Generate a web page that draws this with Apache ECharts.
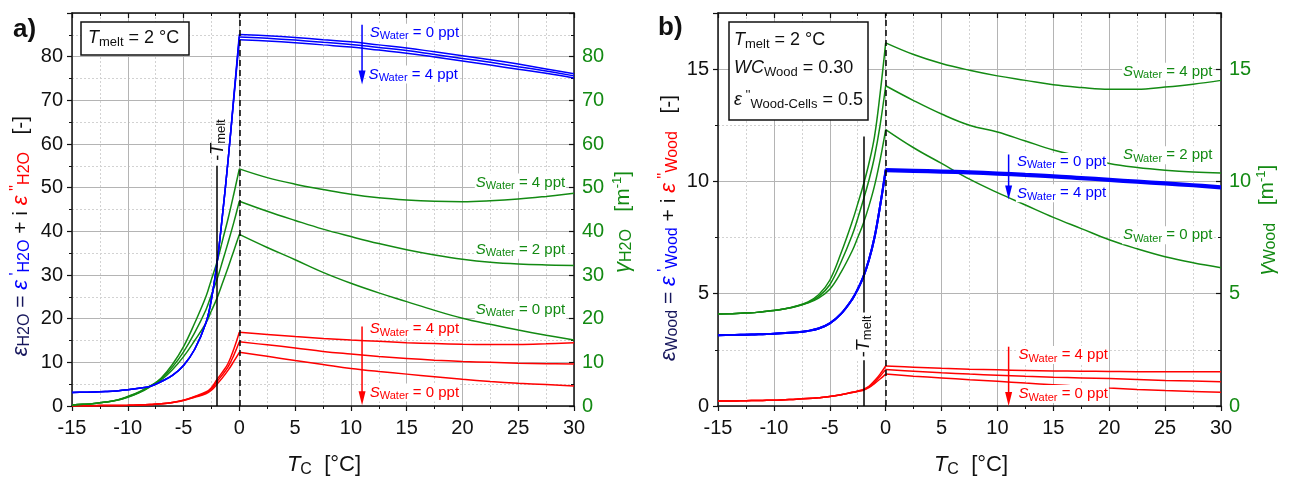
<!DOCTYPE html>
<html><head><meta charset="utf-8">
<script src="https://cdn.jsdelivr.net/npm/echarts@6/dist/echarts.min.js"></script>
<style>html,body{margin:0;padding:0;background:#fff}#c{width:1294px;height:478px}</style>
</head><body><div id="c"></div>
<script>
// ---------- temperatures ----------
const T_FROZEN = [-15,-14,-13,-12,-11,-10,-9,-8,-7,-6,-5,-4,-3,-2.5,-2,-1.5,-1,-0.5,0];
const T_MELTED = [0,2.5,5,7.5,10,12.5,15,17.5,20,22.5,25,27.5,30];
const X_TICKS = [-15,-10,-5,0,5,10,15,20,25,30];

// ---------- panel a: water ----------
const A_EPS1_FROZEN_S0 = [3.1,3.15,3.2,3.3,3.45,3.7,4.05,4.5,5.6,7.0,9.3,13.0,19.0,24.5,32.7,44.0,56.5,70.8,85.1];
const A_EPS1_FROZEN_S2 = [3.1,3.15,3.2,3.3,3.45,3.7,4.05,4.5,5.6,7.0,9.3,13.0,19.0,24.5,32.7,44.0,56.5,70.5,84.5];
const A_EPS1_FROZEN_S4 = [3.1,3.15,3.2,3.3,3.45,3.7,4.05,4.5,5.6,7.0,9.3,13.0,19.0,24.5,32.7,44.0,56.5,70.2,83.9];
const A_EPS1_MELTED_S0 = [85.1,84.8,84.4,83.9,83.4,82.7,82.0,81.1,80.2,79.3,78.3,77.2,76.1];
const A_EPS1_MELTED_S2 = [84.5,84.2,83.8,83.3,82.8,82.1,81.4,80.5,79.6,78.7,77.7,76.7,75.6];
const A_EPS1_MELTED_S4 = [83.9,83.6,83.2,82.7,82.2,81.5,80.8,79.9,79.0,78.1,77.1,76.2,75.1];

const A_GAMMA_FROZEN_S0 = [0.25,0.4,0.6,0.9,1.35,2.2,3.2,4.6,6.0,8.3,11.3,15.0,19.0,21.8,24.7,28.2,31.8,35.5,39.3];
const A_GAMMA_FROZEN_S2 = [0.25,0.4,0.6,0.9,1.3,2.1,3.1,4.5,6.2,8.9,12.4,16.8,22.0,25.5,29.0,33.2,37.5,42.0,46.9];
const A_GAMMA_FROZEN_S4 = [0.25,0.4,0.6,0.9,1.3,2.0,3.0,4.4,6.4,9.5,13.6,19.0,25.0,29.0,33.0,38.0,43.0,48.5,54.3];
const A_GAMMA_MELTED_S0 = [39.3,36.3,33.5,30.6,28.1,25.9,23.9,21.9,20.1,18.7,17.4,16.2,15.1];
const A_GAMMA_MELTED_S2 = [46.9,44.6,42.5,40.5,38.8,37.2,35.8,34.6,33.6,32.9,32.5,32.3,32.2];
const A_GAMMA_MELTED_S4 = [54.3,52.3,50.8,49.6,48.5,47.7,47.2,46.9,46.8,47.0,47.4,48.0,48.7];

const A_EPS2_FROZEN_S0 = [0.05,0.06,0.08,0.1,0.12,0.15,0.22,0.33,0.5,0.8,1.25,2.0,2.8,3.6,5.0,6.5,8.2,10.2,12.3];
const A_EPS2_FROZEN_S2 = [0.05,0.06,0.08,0.1,0.12,0.15,0.22,0.33,0.5,0.8,1.3,2.1,3.0,3.9,5.6,7.2,9.0,11.6,14.7];
const A_EPS2_FROZEN_S4 = [0.05,0.06,0.08,0.1,0.12,0.15,0.22,0.33,0.5,0.82,1.35,2.2,3.2,4.2,6.1,7.8,9.8,13.0,16.9];
const A_EPS2_MELTED_S0 = [12.3,11.4,10.4,9.5,8.6,7.9,7.3,6.7,6.1,5.6,5.2,4.9,4.6];
const A_EPS2_MELTED_S2 = [14.7,14.0,13.3,12.5,11.9,11.35,10.9,10.5,10.2,10.0,9.8,9.7,9.6];
const A_EPS2_MELTED_S4 = [16.9,16.4,15.9,15.45,15.1,14.8,14.5,14.3,14.15,14.1,14.1,14.25,14.5];

// ---------- panel b: wood ----------
const B_EPS1_FROZEN_S0 = [3.15,3.16,3.17,3.18,3.2,3.22,3.25,3.28,3.34,3.45,3.68,4.1,4.75,5.2,5.75,6.5,7.5,8.9,10.55];
const B_EPS1_FROZEN_S2 = [3.15,3.16,3.17,3.18,3.2,3.22,3.25,3.28,3.34,3.45,3.68,4.1,4.75,5.2,5.75,6.5,7.5,8.9,10.5];
const B_EPS1_FROZEN_S4 = [3.15,3.16,3.17,3.18,3.2,3.22,3.25,3.28,3.34,3.45,3.68,4.1,4.75,5.2,5.75,6.5,7.5,8.9,10.45];
const B_EPS1_MELTED_S0 = [10.55,10.52,10.49,10.45,10.4,10.34,10.28,10.2,10.12,10.04,9.96,9.88,9.79];
const B_EPS1_MELTED_S2 = [10.5,10.47,10.44,10.4,10.35,10.29,10.23,10.15,10.07,9.99,9.91,9.83,9.74];
const B_EPS1_MELTED_S4 = [10.45,10.42,10.39,10.35,10.3,10.24,10.18,10.1,10.02,9.94,9.86,9.78,9.69];

const B_GAMMA_FROZEN_S0 = [4.1,4.11,4.13,4.15,4.2,4.25,4.33,4.43,4.58,4.8,5.2,5.95,6.9,7.5,8.13,8.9,9.8,10.95,12.31];
const B_GAMMA_FROZEN_S2 = [4.1,4.11,4.13,4.15,4.2,4.25,4.33,4.44,4.6,4.87,5.4,6.4,7.6,8.35,9.17,10.05,11.1,12.5,14.26];
const B_GAMMA_FROZEN_S4 = [4.1,4.11,4.13,4.15,4.2,4.25,4.33,4.45,4.62,4.95,5.6,6.8,8.2,9.0,9.84,10.8,12.0,13.9,16.17];
const B_GAMMA_MELTED_S0 = [12.31,11.5,10.8,10.1,9.5,8.95,8.4,7.9,7.4,7.0,6.65,6.38,6.16];
const B_GAMMA_MELTED_S2 = [14.26,13.6,13.0,12.5,12.2,11.8,11.4,11.1,10.8,10.62,10.5,10.42,10.38];
const B_GAMMA_MELTED_S4 = [16.17,15.65,15.25,14.95,14.7,14.5,14.3,14.18,14.1,14.1,14.2,14.33,14.5];

const B_EPS2_FROZEN_S0 = [0.22,0.22,0.23,0.24,0.25,0.26,0.28,0.3,0.33,0.37,0.42,0.5,0.6,0.65,0.7,0.82,1.0,1.2,1.42];
const B_EPS2_FROZEN_S2 = [0.22,0.22,0.23,0.24,0.25,0.26,0.28,0.3,0.33,0.37,0.42,0.5,0.6,0.66,0.72,0.85,1.06,1.33,1.62];
const B_EPS2_FROZEN_S4 = [0.22,0.22,0.23,0.24,0.25,0.26,0.28,0.3,0.33,0.37,0.42,0.5,0.61,0.67,0.74,0.88,1.12,1.42,1.78];
const B_EPS2_MELTED_S0 = [1.42,1.33,1.25,1.17,1.1,1.02,0.95,0.87,0.8,0.74,0.69,0.65,0.61];
const B_EPS2_MELTED_S2 = [1.62,1.55,1.48,1.42,1.37,1.32,1.28,1.25,1.22,1.18,1.14,1.11,1.08];
const B_EPS2_MELTED_S4 = [1.78,1.73,1.68,1.64,1.61,1.58,1.56,1.55,1.54,1.53,1.53,1.53,1.53];

// ---------- axes scales ----------
const A_Y_MAX = 90, A_Y_STEP = 10;
const B_Y_MAX = 17.5, B_Y_STEP = 5;
const T_MELT_LINE = -2;        // -T_melt vertical line position
const A_MELT_LINE_TOP = 55, B_MELT_LINE_TOP = 12;

const FONT = "'Liberation Sans', Arial, sans-serif";
const GREEN = '#138a13', BLUE = '#0000ff', RED = '#ff0000', NAVY = '#16165c', INK = '#111';

const chart = echarts.init(document.getElementById('c'));

function xAxesFor(gi) {
  const base = {gridIndex: gi, type: 'value', min: X_TICKS[0], max: X_TICKS[X_TICKS.length-1], interval: 5};
  return [
    Object.assign({}, base, {position: 'bottom',
      axisLine: {onZero: false, lineStyle: {color: INK, width: 1.5}},
      axisTick: {inside: false, length: 5, lineStyle: {color: INK, width: 1.2}},
      minorTick: {show: true, splitNumber: 2, length: 3, lineStyle: {color: INK, width: 1}},
      axisLabel: {color: INK, fontSize: 20, fontFamily: FONT, margin: 12},
      splitLine: {show: true, lineStyle: {color: '#b4b4b4', width: 1}},
      minorSplitLine: {show: true, lineStyle: {color: '#d2d2d2', width: 1, type: [2, 2]}}}),
    Object.assign({}, base, {position: 'top',
      axisLine: {onZero: false, lineStyle: {color: INK, width: 1.5}},
      axisTick: {inside: true, length: 5, lineStyle: {color: INK, width: 1.2}},
      minorTick: {show: true, splitNumber: 2, length: 3, lineStyle: {color: INK, width: 1}},
      axisLabel: {show: false}, splitLine: {show: false}})
  ];
}
function yAxesFor(gi, max, step) {
  const base = {gridIndex: gi, type: 'value', min: 0, max: max, interval: step};
  return [
    Object.assign({}, base, {position: 'left',
      axisLine: {onZero: false, lineStyle: {color: INK, width: 1.5}},
      axisTick: {inside: false, length: 5, lineStyle: {color: INK, width: 1.2}},
      minorTick: {show: true, splitNumber: 2, length: 3, lineStyle: {color: INK, width: 1}},
      axisLabel: {color: INK, fontSize: 20, fontFamily: FONT, margin: 9, showMaxLabel: false},
      splitLine: {show: true, lineStyle: {color: '#b4b4b4', width: 1}},
      minorSplitLine: {show: true, lineStyle: {color: '#d2d2d2', width: 1, type: [2, 2]}}}),
    Object.assign({}, base, {position: 'right',
      axisLine: {onZero: false, lineStyle: {color: INK, width: 1.5}},
      axisTick: {inside: true, length: 5, lineStyle: {color: INK, width: 1.2}},
      minorTick: {show: true, splitNumber: 2, length: 3, lineStyle: {color: INK, width: 1}},
      axisLabel: {color: GREEN, fontSize: 20, fontFamily: FONT, margin: 8, showMaxLabel: false},
      splitLine: {show: false}})
  ];
}

function curve(xs, ys, color, xi, yi, width) {
  return {type: 'line', xAxisIndex: xi, yAxisIndex: yi, data: xs.map((x, i) => [x, ys[i]]),
    showSymbol: false, symbol: 'none', smooth: 0.4, animation: false, silent: true,
    lineStyle: {color: color, width: width}, itemStyle: {color: color}, z: 3};
}
function pair(frozen, melted, color, xi, yi, width) {
  return [curve(T_FROZEN, frozen, color, xi, yi, width), curve(T_MELTED, melted, color, xi, yi, width)];
}
function vlines(xi, yi, ymax, meltTop) {
  return {type: 'line', xAxisIndex: xi, yAxisIndex: yi, data: [], silent: true, animation: false,
    markLine: {silent: true, symbol: ['none', 'none'], label: {show: false}, animation: false,
      data: [
        [{coord: [T_MELT_LINE, 0], lineStyle: {color: '#000', width: 1.5, type: 'solid'}}, {coord: [T_MELT_LINE, meltTop]}],
        [{coord: [0, 0], lineStyle: {color: '#000', width: 1.5, type: [6, 4]}}, {coord: [0, ymax]}]
      ]}, z: 4};
}

const series = [].concat(
  pair(A_EPS2_FROZEN_S0, A_EPS2_MELTED_S0, RED, 0, 0, 1.5),
  pair(A_EPS2_FROZEN_S2, A_EPS2_MELTED_S2, RED, 0, 0, 1.5),
  pair(A_EPS2_FROZEN_S4, A_EPS2_MELTED_S4, RED, 0, 0, 1.5),
  pair(A_GAMMA_FROZEN_S0, A_GAMMA_MELTED_S0, GREEN, 0, 1, 1.5),
  pair(A_GAMMA_FROZEN_S2, A_GAMMA_MELTED_S2, GREEN, 0, 1, 1.5),
  pair(A_GAMMA_FROZEN_S4, A_GAMMA_MELTED_S4, GREEN, 0, 1, 1.5),
  pair(A_EPS1_FROZEN_S0, A_EPS1_MELTED_S0, BLUE, 0, 0, 1.5),
  pair(A_EPS1_FROZEN_S2, A_EPS1_MELTED_S2, BLUE, 0, 0, 1.5),
  pair(A_EPS1_FROZEN_S4, A_EPS1_MELTED_S4, BLUE, 0, 0, 1.5),
  [vlines(0, 0, A_Y_MAX, A_MELT_LINE_TOP)],
  pair(B_EPS2_FROZEN_S0, B_EPS2_MELTED_S0, RED, 2, 2, 1.5),
  pair(B_EPS2_FROZEN_S2, B_EPS2_MELTED_S2, RED, 2, 2, 1.5),
  pair(B_EPS2_FROZEN_S4, B_EPS2_MELTED_S4, RED, 2, 2, 1.5),
  pair(B_GAMMA_FROZEN_S0, B_GAMMA_MELTED_S0, GREEN, 2, 3, 1.5),
  pair(B_GAMMA_FROZEN_S2, B_GAMMA_MELTED_S2, GREEN, 2, 3, 1.5),
  pair(B_GAMMA_FROZEN_S4, B_GAMMA_MELTED_S4, GREEN, 2, 3, 1.5),
  pair(B_EPS1_FROZEN_S0, B_EPS1_MELTED_S0, BLUE, 2, 2, 2),
  pair(B_EPS1_FROZEN_S2, B_EPS1_MELTED_S2, BLUE, 2, 2, 2),
  pair(B_EPS1_FROZEN_S4, B_EPS1_MELTED_S4, BLUE, 2, 2, 2),
  [vlines(2, 2, B_Y_MAX, B_MELT_LINE_TOP)]
);

chart.setOption({
  animation: false,
  backgroundColor: '#fff',
  grid: [
    {left: 72, top: 13, width: 502, height: 393},
    {left: 718, top: 13, width: 503, height: 393}
  ],
  xAxis: [].concat(xAxesFor(0), xAxesFor(1)),
  yAxis: [].concat(yAxesFor(0, A_Y_MAX, A_Y_STEP), yAxesFor(1, B_Y_MAX, B_Y_STEP)),
  series: series
});

// ---------- annotations ----------
function P(panel, x, y) { return chart.convertToPixel({xAxisIndex: panel * 2, yAxisIndex: panel * 2}, [x, y]); }

function sRich(color) {
  return {
    it: {fill: color, fontSize: 15, fontStyle: 'italic', fontFamily: FONT, lineHeight: 18},
    sub: {fill: color, fontSize: 11, fontFamily: FONT, lineHeight: 9, verticalAlign: 'bottom'},
    n: {fill: color, fontSize: 15, fontFamily: FONT, lineHeight: 18}
  };
}
function sLabel(panel, x, y, ppt, color, align) {
  const p = P(panel, x, y);
  return {type: 'text', x: p[0], y: p[1], z: 100, silent: true,
    style: {text: '{it|S}{sub|Water}{n| = ' + ppt + ' ppt}', rich: sRich(color), align: align, verticalAlign: 'middle',
      backgroundColor: '#fff', padding: [0, 1]}};
}
function arrow(panel, x, y0, y1, color) {
  const a = P(panel, x, y0), b = P(panel, x, y1);
  return [
    {type: 'line', z: 100, silent: true, shape: {x1: a[0], y1: a[1], x2: b[0], y2: b[1] - 8}, style: {stroke: color, lineWidth: 1.5}},
    {type: 'polygon', z: 100, silent: true, shape: {points: [[b[0] - 3.5, b[1] - 14], [b[0] + 3.5, b[1] - 14], [b[0], b[1]]]}, style: {fill: color}}
  ];
}
function meltLabel(panel, y, withBg) {
  const p = P(panel, T_MELT_LINE, y);
  const st = {text: '-{it|T}{sub|melt}', rich: {
      it: {fill: '#111', fontSize: 18, fontStyle: 'italic', fontFamily: FONT, lineHeight: 20},
      sub: {fill: '#111', fontSize: 13, fontFamily: FONT, lineHeight: 11, verticalAlign: 'bottom'}},
    fill: '#111', fontSize: 18, fontFamily: FONT, lineHeight: 20, align: 'center', verticalAlign: 'middle'};
  if (withBg) { st.backgroundColor = '#fff'; st.padding = [0, 3]; }
  return {type: 'text', x: p[0] + 1, y: p[1], rotation: Math.PI / 2, z: 100, silent: true, style: st};
}
function rotTitle(x, y, text, rich) {
  return {type: 'text', x: x, y: y, rotation: Math.PI / 2, z: 100, silent: true,
    style: {text: text, rich: rich, align: 'center', verticalAlign: 'middle'}};
}
function tok(color, size, opts) { return Object.assign({fill: color, fontSize: size, fontFamily: FONT, lineHeight: 24}, opts || {}); }

function yTitleRich() {
  return {
    e0: tok(NAVY, 22, {fontStyle: 'italic'}), s0: tok(NAVY, 16, {lineHeight: 13, verticalAlign: 'bottom'}), n0: tok(NAVY, 21),
    e1: tok(BLUE, 22, {fontStyle: 'italic'}), p1: tok(BLUE, 16, {lineHeight: 14, verticalAlign: 'top'}), s1: tok(BLUE, 16, {lineHeight: 13, verticalAlign: 'bottom'}),
    k: tok('#111', 21),
    e2: tok(RED, 22, {fontStyle: 'italic'}), p2: tok(RED, 16, {lineHeight: 14, verticalAlign: 'top'}), s2: tok(RED, 16, {lineHeight: 13, verticalAlign: 'bottom'})
  };
}
function yTitle(sub) {
  return '{e0|ε}{s0|' + sub + '}{n0| = }{e1|ε}{p1| \'}{s1|' + sub + '}{k| + i }{e2|ε}{p2| \'\'}{s2|' + sub + '}{k|   [-]}';
}
function gTitleRich() {
  return {g: tok(GREEN, 22, {fontStyle: 'italic'}), s: tok(GREEN, 16, {lineHeight: 13, verticalAlign: 'bottom'}),
    n: tok(GREEN, 21), p: tok(GREEN, 13, {lineHeight: 14, verticalAlign: 'top'})};
}
function xTitle(x, y) {
  return {type: 'text', x: x, y: y, z: 100, silent: true, style: {text: '{it|T}{s|C}{n|  [°C]}',
    rich: {it: tok('#111', 22, {fontStyle: 'italic', lineHeight: 26}), s: tok('#111', 16, {lineHeight: 14, verticalAlign: 'bottom'}), n: tok('#111', 22, {lineHeight: 26})},
    align: 'center', verticalAlign: 'middle'}};
}
function boxRich() {
  return {it: tok('#111', 18, {fontStyle: 'italic', lineHeight: 22}), s: tok('#111', 13, {lineHeight: 12, verticalAlign: 'bottom'}),
    n: tok('#111', 18, {lineHeight: 22}), p: tok('#111', 13, {lineHeight: 12, verticalAlign: 'top'})};
}
function boxText(x, y, text) {
  return {type: 'text', x: x, y: y, z: 100, silent: true, style: {text: text, rich: boxRich(), align: 'left', verticalAlign: 'middle'}};
}

const graphic = [].concat(
  [{type: 'text', x: 13, y: 30, z: 100, style: {text: 'a)', fill: '#111', font: 'bold 26px ' + FONT, verticalAlign: 'middle'}},
   {type: 'text', x: 658, y: 28, z: 100, style: {text: 'b)', fill: '#111', font: 'bold 26px ' + FONT, verticalAlign: 'middle'}}],
  [{type: 'rect', z: 99, shape: {x: 81, y: 22, width: 108, height: 33}, style: {fill: '#fff', stroke: '#111', lineWidth: 1.5}},
   boxText(88, 38, '{it|T}{s|melt}{n| = 2 °C}'),
   {type: 'rect', z: 99, shape: {x: 729, y: 22, width: 139, height: 98}, style: {fill: '#fff', stroke: '#111', lineWidth: 1.5}},
   boxText(734, 40, '{it|T}{s|melt}{n| = 2 °C}'),
   boxText(734, 68, '{it|WC}{s|Wood}{n| = 0.30}'),
   boxText(734, 100, '{it|ε}{p| \'\'}{s|Wood-Cells}{n| = 0.5}')],
  [meltLabel(0, 60.9, false), meltLabel(1, 3.1, true)],
  arrow(0, 11, 87.3, 73.6, BLUE), arrow(0, 11, 18.2, 0.2, RED),
  arrow(1, 11, 11.2, 9.2, BLUE), arrow(1, 11, 2.64, 0, RED),
  [sLabel(0, 11.6, 85.5, '0', BLUE, 'left'), sLabel(0, 11.5, 75.9, '4', BLUE, 'left'),
   sLabel(0, 29.3, 51.2, '4', GREEN, 'right'), sLabel(0, 29.3, 35.8, '2', GREEN, 'right'), sLabel(0, 29.3, 22.0, '0', GREEN, 'right'),
   sLabel(0, 11.6, 17.6, '4', RED, 'left'), sLabel(0, 11.6, 3.1, '0', RED, 'left')],
  [sLabel(1, 11.65, 10.87, '0', BLUE, 'left'), sLabel(1, 11.65, 9.47, '4', BLUE, 'left'),
   sLabel(1, 29.33, 14.88, '4', GREEN, 'right'), sLabel(1, 29.33, 11.17, '2', GREEN, 'right'), sLabel(1, 29.33, 7.6, '0', GREEN, 'right'),
   sLabel(1, 11.8, 2.27, '4', RED, 'left'), sLabel(1, 11.8, 0.53, '0', RED, 'left')],
  [rotTitle(21, 236, yTitle('H2O'), yTitleRich()),
   rotTitle(623, 222, '{g|γ}{s|H2O}{n|   [m}{p|-1}{n|]}', gTitleRich()),
   rotTitle(669, 228, yTitle('Wood'), yTitleRich()),
   rotTitle(1267, 220, '{g|γ}{s|Wood}{n|   [m}{p|-1}{n|]}', gTitleRich()),
   xTitle(324, 465), xTitle(971, 465)]
);

chart.setOption({graphic: graphic});
</script>
</body></html>
